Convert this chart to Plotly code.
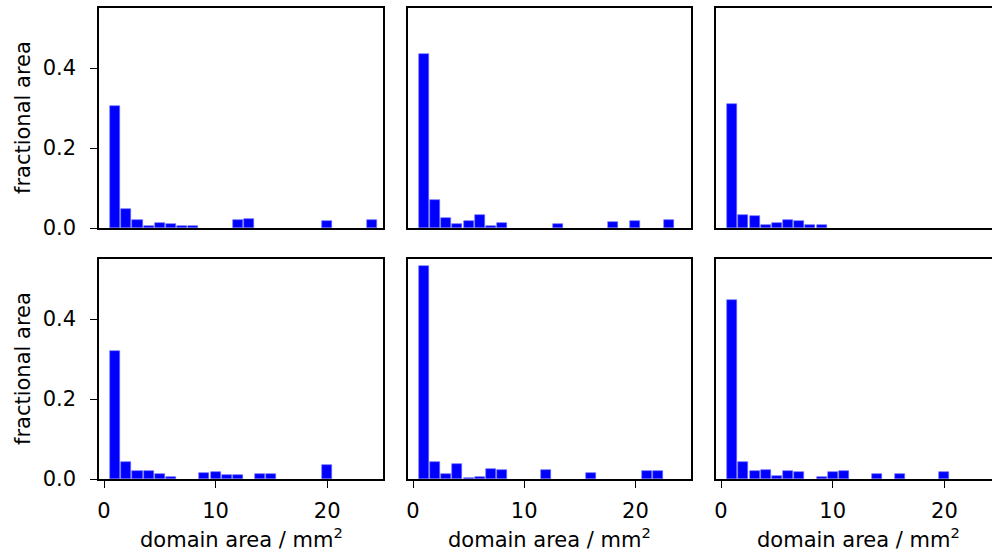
import plotly.graph_objects as go

# Data: bar positions (domain area, mm^2) and fractional areas for each panel
p1_x = [1, 2, 3, 4, 5, 6, 7, 8, 12, 13, 20, 24]
p1_y = [0.305, 0.047, 0.020, 0.006, 0.012, 0.009, 0.006, 0.006, 0.020, 0.022, 0.017, 0.020]

p2_x = [1, 2, 3, 4, 5, 6, 7, 8, 13, 18, 20, 23]
p2_y = [0.435, 0.071, 0.026, 0.011, 0.017, 0.032, 0.006, 0.013, 0.010, 0.015, 0.017, 0.020]

p3_x = [1, 2, 3, 4, 5, 6, 7, 8, 9]
p3_y = [0.310, 0.033, 0.030, 0.0075, 0.013, 0.021, 0.018, 0.0075, 0.0075]

p4_x = [1, 2, 3, 4, 5, 6, 9, 10, 11, 12, 14, 15, 20]
p4_y = [0.320, 0.043, 0.021, 0.021, 0.013, 0.005, 0.016, 0.0175, 0.010, 0.010, 0.012, 0.013, 0.036]

p5_x = [1, 2, 3, 4, 5, 6, 7, 8, 12, 16, 21, 22]
p5_y = [0.532, 0.042, 0.013, 0.038, 0.003, 0.005, 0.026, 0.0225, 0.0225, 0.014, 0.019, 0.021]

p6_x = [1, 2, 3, 4, 5, 6, 7, 9, 10, 11, 14, 16, 20]
p6_y = [0.4475, 0.042, 0.019, 0.023, 0.008, 0.021, 0.0175, 0.006, 0.0175, 0.019, 0.012, 0.013, 0.0175]

y_ticks = [0.0, 0.2, 0.4]
y_ticktext = ["0.0", "0.2", "0.4"]
x_ticks = [0, 10, 20]
x_ticktext = ["0", "10", "20"]
y_label = "fractional area"
x_label = "domain area / mm<sup>2</sup>"

W, H = 992, 558
FONT = "DejaVu Sans"
FS = 21

panels = [(p1_x, p1_y), (p2_x, p2_y), (p3_x, p3_y), (p4_x, p4_y), (p5_x, p5_y), (p6_x, p6_y)]

# pixel layout
col_px = [(99, 383), (408, 691), (716, 992)]
row_px = [(8, 228), (259, 479)]
x_ranges = [[-0.45, 25.0], [-0.45, 25.0], [-0.45, 24.26]]

fig = go.Figure()
layout = dict(
    width=W, height=H,
    margin=dict(l=0, r=0, t=0, b=0),
    paper_bgcolor="white", plot_bgcolor="white",
    showlegend=False,
    template="none",
    font=dict(family=FONT, size=FS, color="black"),
    bargap=0,
)

for i, (xs, ys) in enumerate(panels):
    r, c = divmod(i, 3)
    n = i + 1
    xa = "x" if n == 1 else f"x{n}"
    ya = "y" if n == 1 else f"y{n}"
    fig.add_trace(go.Bar(x=xs, y=ys, width=0.9, marker=dict(color="#0000ff", line=dict(width=0.6, color="#6a6aff")),
                         xaxis=xa, yaxis=ya))
    x0, x1 = col_px[c]
    y0, y1 = row_px[r]
    xkey = "xaxis" if n == 1 else f"xaxis{n}"
    ykey = "yaxis" if n == 1 else f"yaxis{n}"
    bottom = (r == 1)
    left = (c == 0)
    layout[xkey] = dict(
        domain=[x0 / W, x1 / W], anchor=ya, range=x_ranges[c],
        showgrid=False, zeroline=False, automargin=False,
        showline=True, mirror=True, linecolor="black", linewidth=1.5,
        ticks="outside" if bottom else "", ticklen=7, tickwidth=1.4, tickcolor="black",
        tickvals=x_ticks, ticktext=x_ticktext, showticklabels=bottom,
        ticklabelstandoff=5,
        tickfont=dict(family=FONT, size=FS, color="black"),
    )
    layout[ykey] = dict(
        domain=[1 - y1 / H, 1 - y0 / H], anchor=xa, range=[0, 0.55],
        showgrid=False, zeroline=False, automargin=False,
        showline=True, mirror=(c != 2), linecolor="black", linewidth=1.5,
        ticks="outside" if left else "", ticklen=7, tickwidth=1.4, tickcolor="black",
        tickvals=y_ticks, ticktext=y_ticktext, showticklabels=left,
        ticklabelstandoff=10,
        tickfont=dict(family=FONT, size=FS, color="black"),
    )

annotations = []
for r in range(2):
    y0, y1 = row_px[r]
    annotations.append(dict(text=y_label, x=23 / W, y=1 - ((y0 + y1) / 2) / H, xref="paper", yref="paper",
                            showarrow=False, textangle=-90, xanchor="center", yanchor="middle",
                            font=dict(family=FONT, size=FS, color="black")))
for c, cx in enumerate([241, 549.5, 858]):
    annotations.append(dict(text=x_label, x=cx / W, y=1 - 538 / H, xref="paper", yref="paper",
                            showarrow=False, xanchor="center", yanchor="middle",
                            font=dict(family=FONT, size=FS, color="black")))
layout["annotations"] = annotations

fig.update_layout(**layout)
fig.write_html("out.html")
